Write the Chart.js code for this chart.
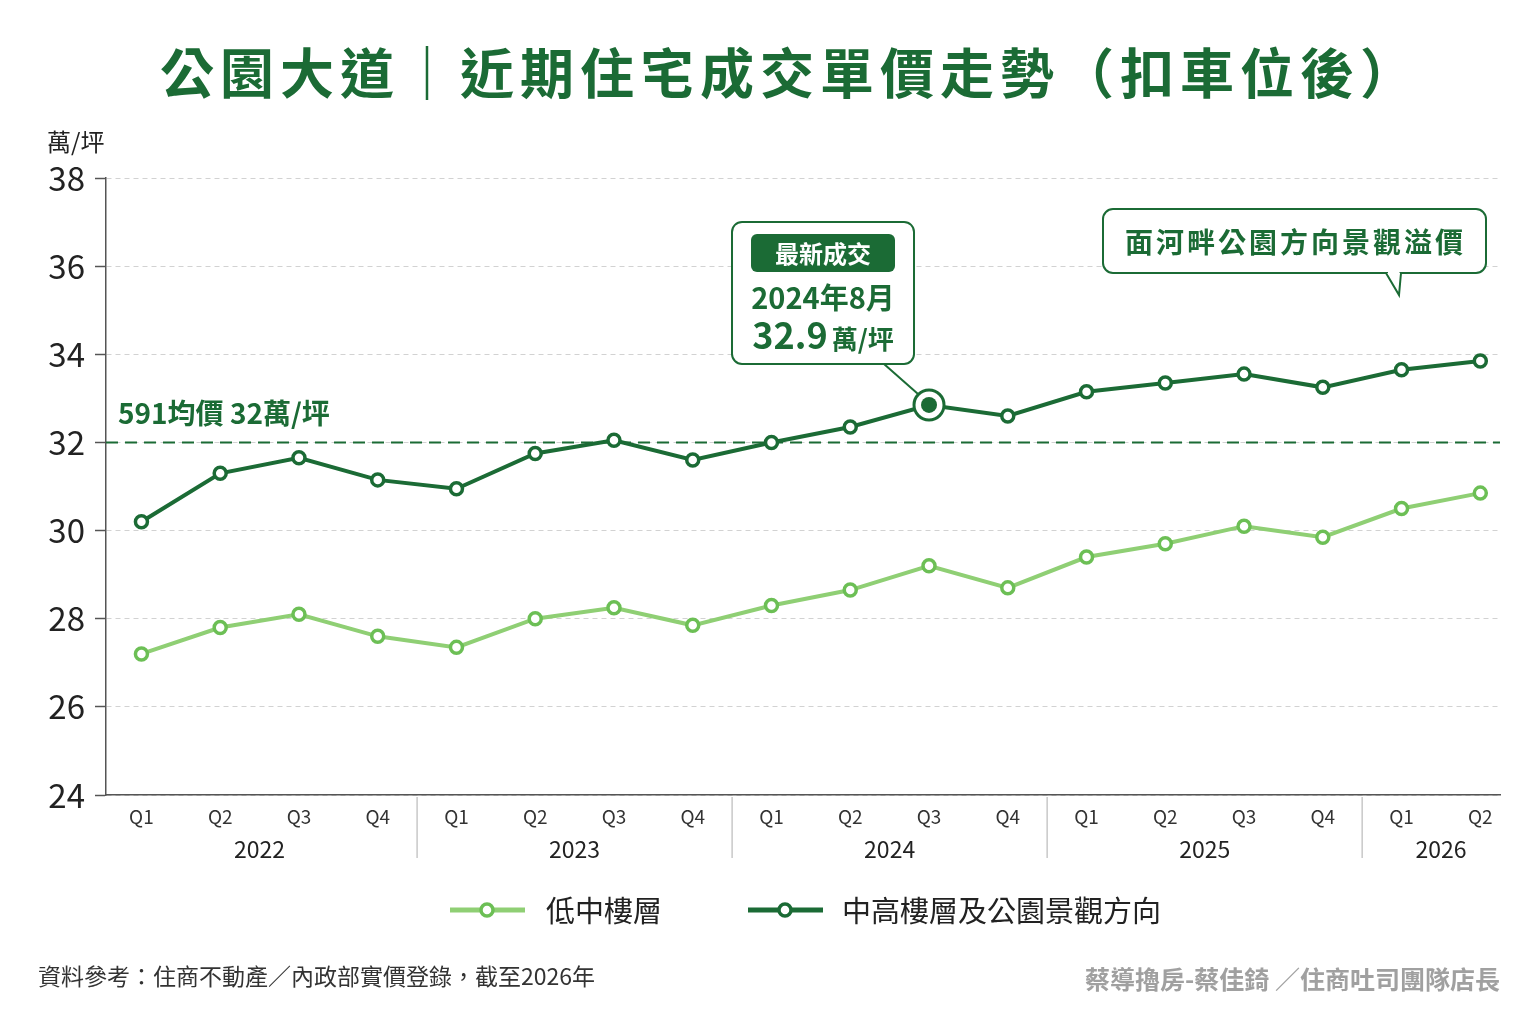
<!DOCTYPE html>
<html lang="zh-Hant">
<head>
<meta charset="utf-8">
<title>公園大道 近期住宅成交單價走勢</title>
<script src="https://cdn.jsdelivr.net/npm/chart.js@4.4.1/dist/chart.umd.min.js"></script>
<style>
    html, body { margin: 0; padding: 0; background: #fff; }
    #wrap { width: 1536px; height: 1024px; }
</style>
</head>
<body>
<div id="wrap"><canvas id="grafica"></canvas></div>
<script>
// datos (萬/坪)
const quarters = ['Q1', 'Q2', 'Q3', 'Q4', 'Q1', 'Q2', 'Q3', 'Q4', 'Q1', 'Q2', 'Q3', 'Q4', 'Q1', 'Q2', 'Q3', 'Q4', 'Q1', 'Q2'];
const years = ['2022', '2023', '2024', '2025', '2026'];
const quartersPerYear = [4, 4, 4, 4, 2];
const lowFloors = [27.2, 27.8, 28.1, 27.6, 27.35, 28.0, 28.25, 27.85, 28.3, 28.65, 29.2, 28.7, 29.4, 29.7, 30.1, 29.85, 30.5, 30.85];
const highFloors = [30.2, 31.3, 31.65, 31.15, 30.95, 31.75, 32.05, 31.6, 32.0, 32.35, 32.85, 32.6, 33.15, 33.35, 33.55, 33.25, 33.65, 33.85];
const yTicks = [24, 26, 28, 30, 32, 34, 36, 38];
const avgPrice = 32;
const avgLabel = '591均價 32萬/坪';
const latestIndex = 10;
const latestTag = '最新成交';
const latestMonth = '2024年8月';
const latestPrice = '32.9';
const premiumNote = '面河畔公園方向景觀溢價';
const seriesNames = ['低中樓層', '中高樓層及公園景觀方向'];

const FONT = '"Noto Sans CJK TC", "Noto Sans", sans-serif';
const verde = '#1b6b35';
const verdeClaro = '#8fcf74';
const verdeClaroBorde = '#6cbf55';

Chart.defaults.font.family = FONT;

function dibujarPunto(ctx, x, y, linea, borde) {
    ctx.strokeStyle = linea;
    ctx.lineWidth = 5;
    ctx.beginPath();
    ctx.moveTo(x - 37, y);
    ctx.lineTo(x + 38, y);
    ctx.stroke();
    ctx.fillStyle = '#fff';
    ctx.strokeStyle = borde;
    ctx.lineWidth = 3.5;
    ctx.beginPath();
    ctx.arc(x, y, 6, 0, Math.PI * 2);
    ctx.fill();
    ctx.stroke();
}

const decoracion = {
    id: 'decoracion',
    beforeDatasetsDraw(chart) {
        const { ctx, chartArea, scales: { y } } = chart;
        const yp = y.getPixelForValue(avgPrice);
        ctx.save();
        ctx.strokeStyle = verde;
        ctx.lineWidth = 2;
        ctx.setLineDash([12, 7]);
        ctx.beginPath();
        ctx.moveTo(chartArea.left, yp);
        ctx.lineTo(chartArea.right, yp);
        ctx.stroke();
        ctx.setLineDash([]);
        ctx.fillStyle = verde;
        ctx.font = `bold 28px ${FONT}`;
        ctx.textAlign = 'left';
        ctx.textBaseline = 'alphabetic';
        ctx.fillText(avgLabel, chartArea.left + 12, yp - 18);
        ctx.restore();
    },
    afterDatasetsDraw(chart) {
        const { ctx } = chart;
        const pt = chart.getDatasetMeta(0).data[latestIndex];
        ctx.save();

        // caja del último dato
        const bx = pt.x - 197, by = pt.y - 183, bw = 182, bh = 142;
        ctx.strokeStyle = verde;
        ctx.lineWidth = 2;
        ctx.beginPath();
        ctx.moveTo(bx + bw - 30, by + bh);
        ctx.lineTo(pt.x - 11, pt.y - 11);
        ctx.stroke();
        ctx.fillStyle = '#fff';
        ctx.beginPath();
        ctx.roundRect(bx, by, bw, bh, 10);
        ctx.fill();
        ctx.stroke();
        ctx.fillStyle = verde;
        ctx.beginPath();
        ctx.roundRect(bx + 19, by + 12, 144, 38, 6);
        ctx.fill();
        ctx.textAlign = 'center';
        ctx.textBaseline = 'middle';
        ctx.fillStyle = '#fff';
        ctx.font = `bold 24px ${FONT}`;
        ctx.fillText(latestTag, bx + bw / 2, by + 32);
        ctx.fillStyle = verde;
        ctx.font = `bold 29px ${FONT}`;
        ctx.fillText(latestMonth, bx + bw / 2, by + 76);
        ctx.font = `bold 36px ${FONT}`;
        const w1 = ctx.measureText(latestPrice).width;
        ctx.font = `bold 26px ${FONT}`;
        const w2 = ctx.measureText('萬/坪').width;
        const sx = bx + bw / 2 - (w1 + w2 + 4) / 2;
        ctx.textAlign = 'left';
        ctx.textBaseline = 'alphabetic';
        ctx.font = `bold 36px ${FONT}`;
        ctx.fillText(latestPrice, sx, by + 127);
        ctx.font = `bold 26px ${FONT}`;
        ctx.fillText('萬/坪', sx + w1 + 4, by + 127);

        // punto destacado
        ctx.fillStyle = '#fff';
        ctx.strokeStyle = verde;
        ctx.lineWidth = 3;
        ctx.beginPath();
        ctx.arc(pt.x, pt.y, 15, 0, Math.PI * 2);
        ctx.fill();
        ctx.stroke();
        ctx.fillStyle = verde;
        ctx.beginPath();
        ctx.arc(pt.x, pt.y, 8, 0, Math.PI * 2);
        ctx.fill();

        // globo de la prima de vista
        const gx = 1103, gy = 209, gw = 383, gh = 64;
        ctx.strokeStyle = verde;
        ctx.lineWidth = 2;
        ctx.fillStyle = '#fff';
        ctx.beginPath();
        ctx.roundRect(gx, gy, gw, gh, 10);
        ctx.fill();
        ctx.stroke();
        ctx.beginPath();
        ctx.moveTo(1386, gy + gh);
        ctx.lineTo(1399, gy + gh + 22);
        ctx.lineTo(1401, gy + gh);
        ctx.closePath();
        ctx.fill();
        ctx.beginPath();
        ctx.moveTo(1386, gy + gh);
        ctx.lineTo(1399, gy + gh + 22);
        ctx.lineTo(1401, gy + gh);
        ctx.stroke();
        ctx.strokeStyle = '#fff';
        ctx.lineWidth = 3;
        ctx.beginPath();
        ctx.moveTo(1388, gy + gh);
        ctx.lineTo(1399.5, gy + gh);
        ctx.stroke();
        ctx.fillStyle = verde;
        ctx.font = `bold 28px ${FONT}`;
        ctx.letterSpacing = '3px';
        ctx.textAlign = 'center';
        ctx.textBaseline = 'middle';
        ctx.fillText(premiumNote, gx + gw / 2 + 1, gy + gh / 2 + 1);
        ctx.restore();
    },
    afterDraw(chart) {
        const { ctx, chartArea, scales: { x } } = chart;
        ctx.save();

        // título
        ctx.fillStyle = verde;
        ctx.font = `bold 54px ${FONT}`;
        ctx.letterSpacing = '6px';
        ctx.textAlign = 'center';
        ctx.textBaseline = 'middle';
        ctx.fillText('公園大道｜近期住宅成交單價走勢（扣車位後）', 790, 73);
        ctx.letterSpacing = '0px';

        // unidad
        ctx.fillStyle = '#222';
        ctx.font = `24px ${FONT}`;
        ctx.textAlign = 'left';
        ctx.fillText('萬/坪', 47, 142);

        // años y separadores
        let inicio = 0;
        ctx.font = `23px ${FONT}`;
        ctx.textAlign = 'center';
        years.forEach((anio, k) => {
            const fin = inicio + quartersPerYear[k] - 1;
            const cx = (x.getPixelForValue(inicio) + x.getPixelForValue(fin)) / 2;
            ctx.fillStyle = '#222';
            ctx.fillText(anio, cx, chartArea.bottom + 54);
            if (k < years.length - 1) {
                const sx = x.getPixelForValue(fin + 0.5);
                ctx.strokeStyle = '#c8c8c8';
                ctx.lineWidth = 1.5;
                ctx.beginPath();
                ctx.moveTo(sx, chartArea.bottom + 2);
                ctx.lineTo(sx, chartArea.bottom + 63);
                ctx.stroke();
            }
            inicio = fin + 1;
        });

        // leyenda
        dibujarPunto(ctx, 487, 910, verdeClaro, verdeClaroBorde);
        dibujarPunto(ctx, 785, 910, verde, verde);
        ctx.fillStyle = '#222';
        ctx.font = `29px ${FONT}`;
        ctx.textAlign = 'left';
        ctx.fillText(seriesNames[0], 546, 911);
        ctx.fillText(seriesNames[1], 842, 911);

        // pie
        ctx.fillStyle = '#333';
        ctx.font = `23px ${FONT}`;
        ctx.fillText('資料參考：住商不動產／內政部實價登錄，截至2026年', 38, 976);
        ctx.fillStyle = '#a0a0a0';
        ctx.font = `bold 25px ${FONT}`;
        ctx.textAlign = 'right';
        ctx.fillText('蔡導擼房-蔡佳錡 ／住商吐司團隊店長', 1500, 979);
        ctx.restore();
    }
};

const ctx = document.getElementById('grafica').getContext('2d');

new Chart(ctx, {
    type: 'line',
    data: {
        datasets: [{
            label: seriesNames[1],
            data: highFloors.map((v, i) => ({ x: i, y: v })),
            borderColor: verde,
            borderWidth: 4,
            pointRadius: c => c.dataIndex === latestIndex ? 0 : 6,
            pointBorderWidth: 3.5,
            pointBorderColor: verde,
            pointBackgroundColor: '#fff',
            tension: 0
        }, {
            label: seriesNames[0],
            data: lowFloors.map((v, i) => ({ x: i, y: v })),
            borderColor: verdeClaro,
            borderWidth: 4,
            pointRadius: 6,
            pointBorderWidth: 3.5,
            pointBorderColor: verdeClaroBorde,
            pointBackgroundColor: '#fff',
            tension: 0
        }]
    },
    options: {
        responsive: true,
        maintainAspectRatio: false,
        animation: false,
        devicePixelRatio: 1,
        layout: { padding: { top: 178, right: 36, left: 0, bottom: 0 } },
        plugins: {
            legend: { display: false },
            tooltip: { enabled: false }
        },
        scales: {
            x: {
                type: 'linear',
                min: -0.45,
                max: 17.25,
                afterBuildTicks: axis => { axis.ticks = quarters.map((q, i) => ({ value: i })); },
                afterFit: s => { s.height = 229; },
                ticks: {
                    callback: v => quarters[v],
                    font: { size: 19 },
                    color: '#333',
                    padding: 10,
                    maxRotation: 0,
                    autoSkip: false
                },
                grid: { display: false, drawTicks: false },
                border: { color: '#555', width: 1.5 }
            },
            y: {
                min: 24,
                max: 38,
                afterBuildTicks: axis => { axis.ticks = yTicks.map(v => ({ value: v })); },
                afterFit: s => { s.width = 106; },
                ticks: {
                    font: { size: 33 },
                    color: '#222',
                    padding: 10
                },
                grid: {
                    color: '#d2d2d2',
                    lineWidth: 1,
                    tickColor: '#555',
                    tickLength: 11,
                    tickWidth: 1.5
                },
                border: { color: '#555', width: 1.5, dash: [5, 4] }
            }
        }
    },
    plugins: [decoracion]
});
</script>
</body>
</html>
